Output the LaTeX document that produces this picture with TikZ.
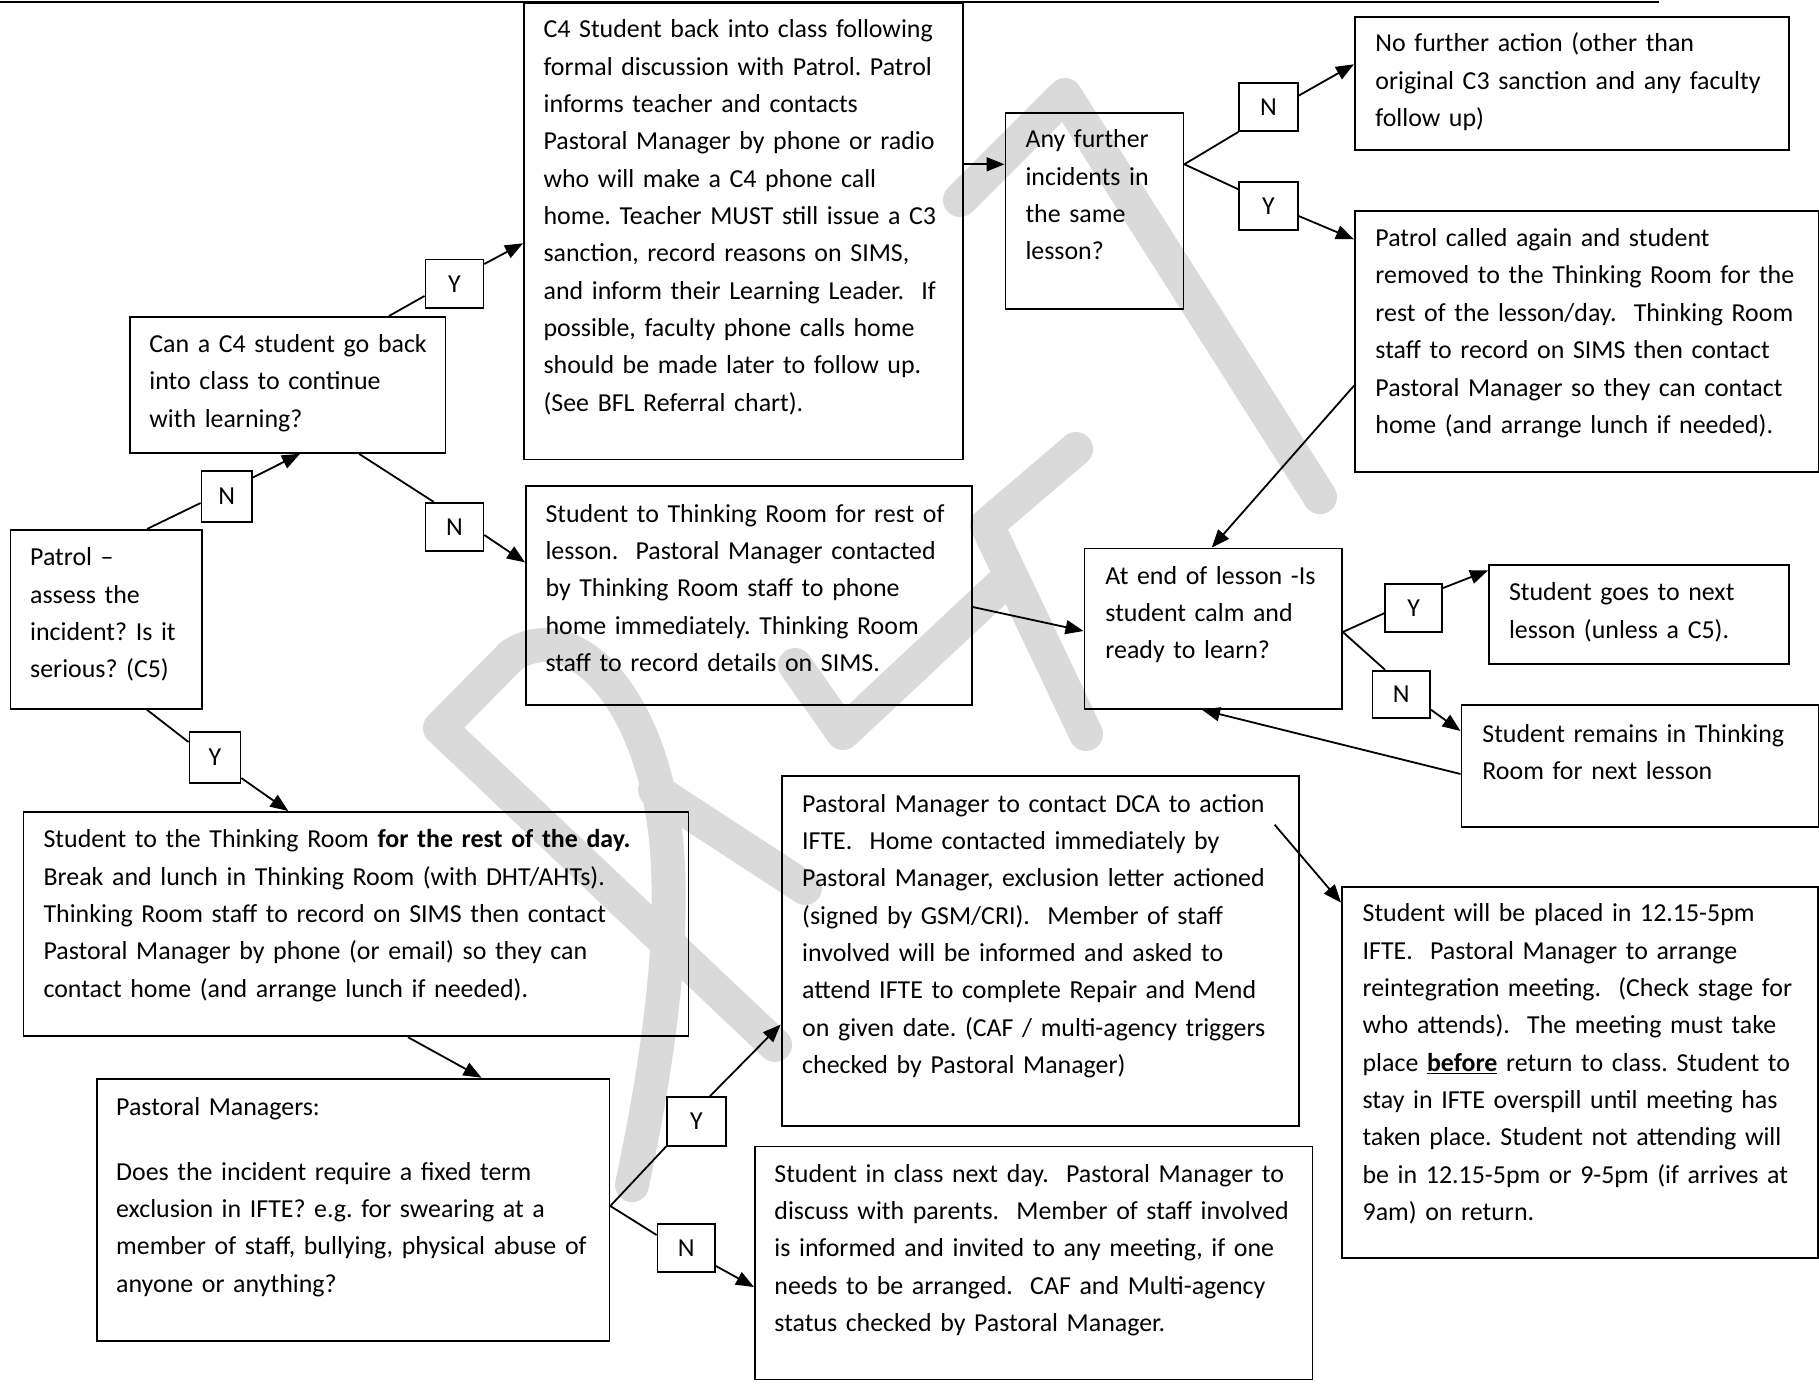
\documentclass[tikz,border=0pt]{standalone}
\usepackage{fontspec}
\setmainfont{Carlito}
\usetikzlibrary{arrows.meta,calc}
\definecolor{wm}{RGB}{218,218,218}
\newcommand\fl{\rule{0pt}{24pt}}
\newcommand\bodyfont{\fontsize{25.9pt}{37.35pt}\selectfont}
\frenchspacing
\begin{document}
\begin{tikzpicture}[x=1pt,y=-1pt,
  box/.style={draw, line width=1.8pt, inner sep=0pt, anchor=north west},
  lbl/.style={draw, line width=1.8pt, inner sep=0pt, font=\bodyfont},
  txt/.style={anchor=north west, inner sep=0pt, text width=800pt, align=left, font=\bodyfont},
  conn/.style={line width=1.8pt},
  arr/.style={line width=1.8pt, -{Triangle[length=18pt,width=14pt]}},
  wmline/.style={draw=wm, line width=34pt, line cap=round, line join=round}]
\useasboundingbox (0,0) rectangle (1819,1383);
% watermark strokes
\draw[wmline] (775,1045) -- (440,728) -- (512,655) .. controls (575,615) and (655,700) .. (667,850) .. controls (675,960) and (652,1090) .. (632,1185);
\draw[wmline] (655,790) -- (805,888);
\draw[wmline] (795,665) -- (843,733) -- (1000,586);
\draw[wmline] (1076,449) -- (987,525) -- (1086,734);
\draw[wmline] (960,200) -- (1065,95) -- (1320,497);
% top rule
\coordinate (tl) at (0,2);
\coordinate (tr) at (1659,2);
\draw[line width=2.5pt] (tl) -- (tr);
% boxes
\node[box, minimum width=191.5pt, minimum height=179pt] (patrol) at (9.5,529) {};
\node[box, minimum width=315.5pt, minimum height=136pt] (can) at (129,316) {};
\node[box, minimum width=438.7pt, minimum height=456.5pt] (c4) at (523,2) {};
\node[box, minimum width=446pt, minimum height=219pt] (trl) at (525,485) {};
\node[box, minimum width=178pt, minimum height=196pt] (any) at (1004.5,112) {};
\node[box, minimum width=434pt, minimum height=133pt] (nof) at (1354,16) {};
\node[box, minimum width=464pt, minimum height=261pt] (again) at (1354,210) {};
\node[box, minimum width=257.5pt, minimum height=160.4pt] (atend) at (1083.5,547.6) {};
\node[box, minimum width=300pt, minimum height=99.2pt] (goes) at (1488,563.8) {};
\node[box, minimum width=357.5pt, minimum height=122pt] (rem) at (1460.5,704) {};
\node[box, minimum width=665pt, minimum height=224.4pt] (trd) at (22.5,811) {};
\node[box, minimum width=512.5pt, minimum height=262.3pt] (pm) at (96,1077.7) {};
\node[box, minimum width=517.3pt, minimum height=350pt] (dca) at (780.7,775) {};
\node[box, minimum width=557.5pt, minimum height=233pt] (nd) at (754,1145.5) {};
\node[box, minimum width=476pt, minimum height=371pt] (placed) at (1341,886) {};
% texts
\node[txt] (patrolt) at (30,541.5) {\fl Patrol –\\assess the\\incident? Is it\\serious? (C5)};
\node[txt] (cant) at (149.2,328.3) {\fl Can a C4 student go back\\into class to continue\\with learning?};
\node[txt] (c4t) at (543.4,13.5) {\fl C4 Student back into class following\\formal discussion with Patrol. Patrol\\informs teacher and contacts\\Pastoral Manager by phone or radio\\who will make a C4 phone call\\home. Teacher MUST still issue a C3\\sanction, record reasons on SIMS,\\and inform their Learning Leader.\ \ If\\possible, faculty phone calls home\\should be made later to follow up.\\(See BFL Referral chart).};
\node[txt] (trlt) at (545.3,498) {\fl Student to Thinking Room for rest of\\lesson.\ \ Pastoral Manager contacted\\by Thinking Room staff to phone\\home immediately. Thinking Room\\staff to record details on SIMS.};
\node[txt] (anyt) at (1025.3,123.6) {\fl Any further\\incidents in\\the same\\lesson?};
\node[txt] (noft) at (1375.2,27.8) {\fl No further action (other than\\original C3 sanction and any faculty\\follow up)};
\node[txt] (againt) at (1375.2,222.4) {\fl Patrol called again and student\\removed to the Thinking Room for the\\rest of the lesson/day.\ \ Thinking Room\\staff to record on SIMS then contact\\Pastoral Manager so they can contact\\home (and arrange lunch if needed).};
\node[txt] (atendt) at (1105.2,560) {\fl At end of lesson -Is\\student calm and\\ready to learn?};
\node[txt] (goest) at (1508.8,576.6) {\fl Student goes to next\\lesson (unless a C5).};
\node[txt] (remt) at (1482.2,717.8) {\fl Student remains in Thinking\\Room for next lesson};
\node[txt] (trdt) at (43.4,823.7) {\fl Student to the Thinking Room \textbf{for the rest of the day.}\\Break and lunch in Thinking Room (with DHT/AHTs).\\Thinking Room staff to record on SIMS then contact\\Pastoral Manager by phone (or email) so they can\\contact home (and arrange lunch if needed).};
\node[txt] (pmt) at (116,1091) {\fl Pastoral Managers:\\[27.65pt]Does the incident require a fixed term\\exclusion in IFTE? e.g. for swearing at a\\member of staff, bullying, physical abuse of\\anyone or anything?};
\node[txt] (dcat) at (802,788) {\fl Pastoral Manager to contact DCA to action\\IFTE.\ \ Home contacted immediately by\\Pastoral Manager, exclusion letter actioned\\(signed by GSM/CRI).\ \ Member of staff\\involved will be informed and asked to\\attend IFTE to complete Repair and Mend\\on given date. (CAF / multi-agency triggers\\checked by Pastoral Manager)};
\node[txt] (ndt) at (774.2,1158) {\fl Student in class next day.\ \ Pastoral Manager to\\discuss with parents.\ \ Member of staff involved\\is informed and invited to any meeting, if one\\needs to be arranged.\ \ CAF and Multi-agency\\status checked by Pastoral Manager.};
\node[txt] (placedt) at (1362.4,897.6) {\fl Student will be placed in 12.15-5pm\\IFTE.\ \ Pastoral Manager to arrange\\reintegration meeting.\ \ (Check stage for\\who attends).\ \ The meeting must take\\place \underline{\textbf{before}} return to class. Student to\\stay in IFTE overspill until meeting has\\taken place. Student not attending will\\be in 12.15-5pm or 9-5pm (if arrives at\\9am) on return.};
% labels
\node[lbl, minimum width=50.5pt, minimum height=51.4pt] (N1) at (226.75,496.3) {N};
\node[lbl, minimum width=58pt, minimum height=48.6pt] (Y1) at (454.4,283.7) {Y};
\node[lbl, minimum width=58pt, minimum height=48.2pt] (N2) at (454.4,526.9) {N};
\node[lbl, minimum width=51pt, minimum height=51pt] (Y2) at (214.9,757.3) {Y};
\node[lbl, minimum width=58.4pt, minimum height=47.8pt] (N3) at (1268.5,107.1) {N};
\node[lbl, minimum width=58.4pt, minimum height=48pt] (Y3) at (1268.5,206) {Y};
\node[lbl, minimum width=57.2pt, minimum height=48.2pt] (Y4) at (1413.6,607.9) {Y};
\node[lbl, minimum width=57.6pt, minimum height=47.1pt] (N4) at (1401.2,694.2) {N};
\node[lbl, minimum width=58.8pt, minimum height=48.6pt] (Y5) at (696.4,1121.3) {Y};
\node[lbl, minimum width=57.5pt, minimum height=47.8pt] (N5) at (686.3,1247.9) {N};
% connectors
\draw[conn] (147,0 |- patrol.north) -- (N1.west |- 0,503);
\draw[arr] (N1.east |- 0,477.5) -- (300,0 |- can.south);
\draw[conn] (389,0 |- can.north) -- (Y1.west |- 0,296);
\draw[arr] (Y1.east |- 0,264) -- (c4.west |- 0,243.3);
\draw[conn] (359,0 |- can.south) -- (433.7,0 |- N2.north);
\draw[arr] (N2.east |- 0,535) -- (trl.west |- 0,562.4);
\draw[conn] (147,0 |- patrol.south) -- (Y2.west |- 0,742);
\draw[arr] (Y2.east |- 0,778) -- (288.3,0 |- trd.north);
\draw[arr] (c4.east |- 0,164.3) -- (any.west |- 0,164.3);
\draw[conn] (any.east |- 0,164.3) -- (N3.south west);
\draw[arr] (N3.east |- 0,95.7) -- (nof.west |- 0,64.3);
\draw[conn] (any.east |- 0,164.3) -- (Y3.west |- 0,189.3);
\draw[arr] (Y3.east |- 0,216) -- (again.west |- 0,239.3);
\draw[arr] (again.west |- 0,385.7) -- (1211.7,0 |- atend.north);
\draw[arr] (trl.east |- 0,607) -- (atend.west |- 0,631);
\draw[conn] (atend.east |- 0,632) -- (Y4.west |- 0,613.3);
\draw[arr] (Y4.east |- 0,588) -- (goes.west |- 0,570.4);
\draw[conn] (atend.east |- 0,632) -- (1385,0 |- N4.north);
\draw[arr] (N4.east |- 0,709.7) -- (rem.west |- 0,731);
\draw[arr] (rem.west |- 0,774) -- (1202,0 |- atend.south);
\draw[arr] (408,0 |- trd.south) -- (481.5,0 |- pm.north);
\draw[conn] (pm.east |- 0,1206) -- (Y5.south west);
\draw[arr] (710,0 |- Y5.north) -- (dca.west |- 0,1024.5);
\draw[conn] (pm.east |- 0,1206) -- (N5.west |- 0,1235);
\draw[arr] (N5.east |- 0,1266) -- (nd.west |- 0,1287);
\coordinate (dcaout) at (1274.6,824.7);
\draw[arr] (dcaout) -- (placed.west |- 0,902.6);
\end{tikzpicture}
\end{document}
